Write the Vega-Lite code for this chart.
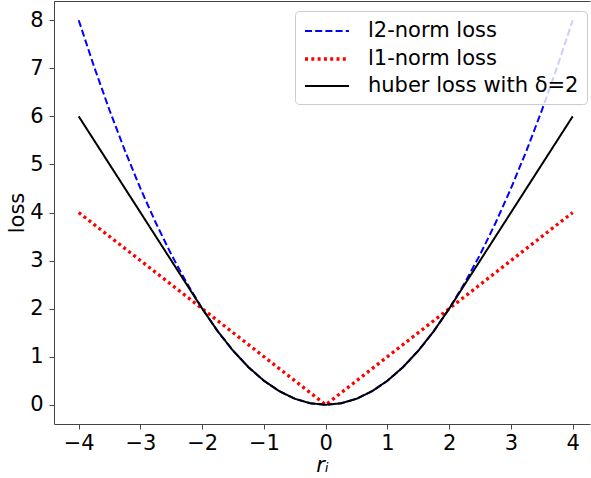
{
  "$schema": "https://vega.github.io/schema/vega-lite/v6.json",
  "autosize": "none",
  "padding": {"left": 54, "top": 1, "right": 1, "bottom": 54},
  "width": 536,
  "height": 423,
  "config": {
    "font": "DejaVu Sans",
    "view": {"stroke": null},
    "axis": {"grid": false, "domainColor": "#444", "tickColor": "#444", "tickSize": 5, "labelFontSize": 21, "labelColor": "#000", "titleFontSize": 21, "titleFontWeight": "normal", "titleColor": "#000", "labelFont": "DejaVu Sans", "titleFont": "DejaVu Sans"}
  },
  "data": {"values": [
    {"r": -4, "l2": 8, "l1": 4, "huber": 6},
    {"r": -3.75, "l2": 7.03125, "huber": 5.5},
    {"r": -3.5, "l2": 6.125, "huber": 5},
    {"r": -3.25, "l2": 5.28125, "huber": 4.5},
    {"r": -3, "l2": 4.5, "huber": 4},
    {"r": -2.75, "l2": 3.78125, "huber": 3.5},
    {"r": -2.5, "l2": 3.125, "huber": 3},
    {"r": -2.25, "l2": 2.53125, "huber": 2.5},
    {"r": -2, "l2": 2, "huber": 2},
    {"r": -1.75, "l2": 1.53125, "huber": 1.53125},
    {"r": -1.5, "l2": 1.125, "huber": 1.125},
    {"r": -1.25, "l2": 0.78125, "huber": 0.78125},
    {"r": -1, "l2": 0.5, "huber": 0.5},
    {"r": -0.75, "l2": 0.28125, "huber": 0.28125},
    {"r": -0.5, "l2": 0.125, "huber": 0.125},
    {"r": -0.25, "l2": 0.03125, "huber": 0.03125},
    {"r": 0, "l2": 0, "l1": 0, "huber": 0},
    {"r": 0.25, "l2": 0.03125, "huber": 0.03125},
    {"r": 0.5, "l2": 0.125, "huber": 0.125},
    {"r": 0.75, "l2": 0.28125, "huber": 0.28125},
    {"r": 1, "l2": 0.5, "huber": 0.5},
    {"r": 1.25, "l2": 0.78125, "huber": 0.78125},
    {"r": 1.5, "l2": 1.125, "huber": 1.125},
    {"r": 1.75, "l2": 1.53125, "huber": 1.53125},
    {"r": 2, "l2": 2, "huber": 2},
    {"r": 2.25, "l2": 2.53125, "huber": 2.5},
    {"r": 2.5, "l2": 3.125, "huber": 3},
    {"r": 2.75, "l2": 3.78125, "huber": 3.5},
    {"r": 3, "l2": 4.5, "huber": 4},
    {"r": 3.25, "l2": 5.28125, "huber": 4.5},
    {"r": 3.5, "l2": 6.125, "huber": 5},
    {"r": 3.75, "l2": 7.03125, "huber": 5.5},
    {"r": 4, "l2": 8, "l1": 4, "huber": 6}
  ]},
  "transform": [
    {"fold": ["l2", "l1", "huber"], "as": ["key", "loss"]},
    {"filter": "isValid(datum.loss)"}
  ],
  "resolve": {"axis": {"x": "independent", "y": "independent"}},
  "layer": [
    {
      "mark": {"type": "line", "clip": true},
      "encoding": {
        "x": {"field": "r", "type": "quantitative", "scale": {"domain": [-4.4, 4.28], "nice": false, "zero": false}, "axis": {"values": [-4, -3, -2, -1, 0, 1, 2, 3, 4], "title": "rᵢ", "titleFontStyle": "italic", "titlePadding": 1, "labelPadding": 3}},
        "y": {"field": "loss", "type": "quantitative", "scale": {"domain": [-0.4, 8.4], "nice": false, "zero": false}, "axis": {"values": [0, 1, 2, 3, 4, 5, 6, 7, 8], "title": "loss", "titlePadding": 2, "labelPadding": 6}},
        "color": {"field": "key", "type": "nominal", "scale": {"domain": ["l2", "l1", "huber"], "range": ["#0000ff", "#ff0000", "#000000"]},
          "legend": {"title": null, "orient": "none", "legendX": 241, "legendY": 10, "symbolType": "M-1,0L3,0", "symbolSize": 484, "symbolStrokeWidth": 2.5, "labelFontSize": 21, "labelFont": "DejaVu Sans", "labelColor": "#000", "labelLimit": 400, "rowPadding": 5, "padding": 8, "labelOffset": 39, "fillColor": "rgba(255,255,255,0.8)", "strokeColor": "#cccccc", "cornerRadius": 4, "labelExpr": "datum.value == 'l2' ? 'l2-norm loss' : datum.value == 'l1' ? 'l1-norm loss' : 'huber loss with δ=2'"}},
        "strokeDash": {"field": "key", "type": "nominal", "scale": {"domain": ["l2", "l1", "huber"], "range": [[7, 3.2], [3, 3.3], [1, 0]]}, "legend": null},
        "strokeWidth": {"field": "key", "type": "nominal", "scale": {"type": "ordinal", "domain": ["l2", "l1", "huber"], "range": [2, 3.3, 2]}, "legend": null},
        "order": {"field": "r", "type": "quantitative"}
      }
    },
    {
      "mark": {"type": "line", "opacity": 0},
      "encoding": {
        "x": {"field": "r", "type": "quantitative", "axis": {"orient": "top", "labels": false, "ticks": false, "title": null}},
        "y": {"field": "loss", "type": "quantitative", "axis": {"orient": "right", "labels": false, "ticks": false, "title": null, "domain": false}}
      }
    }
  ]
}
